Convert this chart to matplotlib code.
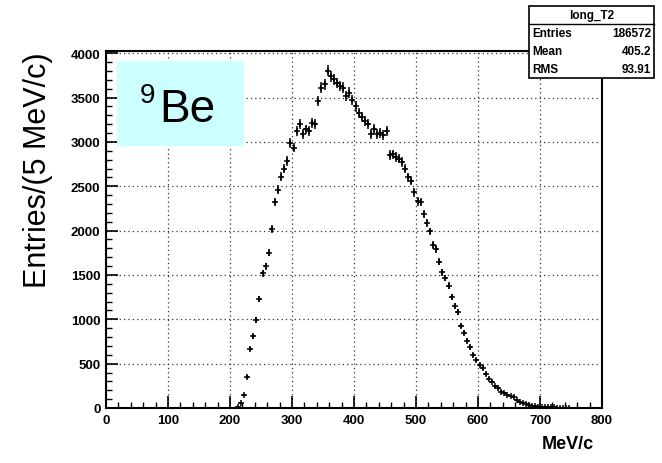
import numpy as np
import matplotlib
matplotlib.use("Agg")
import matplotlib.pyplot as plt
from matplotlib.patches import Rectangle
from matplotlib.ticker import MultipleLocator

plt.rcParams['font.family'] = ['Liberation Sans', 'DejaVu Sans']

# histogram "long_T2": 5 MeV/c bins
bin_centers = np.arange(212.5, 750.0, 5.0)
counts = [15, 55, 145, 350, 665, 810, 990, 1230, 1520, 1600,
          1750, 2020, 2320, 2460, 2610, 2700, 2785, 2990, 2935, 3125,
          3200, 3090, 3140, 3125, 3215, 3200, 3460, 3610, 3650, 3800,
          3740, 3705, 3665, 3630, 3610, 3520, 3555, 3470, 3400, 3330,
          3280, 3240, 3200, 3090, 3150, 3090, 3100, 3080, 3120, 2850,
          2860, 2830, 2810, 2775, 2700, 2600, 2560, 2430, 2330, 2320,
          2190, 2090, 1990, 1840, 1790, 1650, 1530, 1465, 1380, 1250,
          1150, 1080, 930, 850, 760, 685, 600, 545, 490, 450,
          385, 330, 295, 245, 222, 185, 170, 150, 140, 120,
          93, 72, 60, 45, 35, 27, 20, 16, 13, 11,
          9, 8, 7, 5, 4, 3, 2, 1]
counts = np.array(counts, dtype=float)

stats_title = "long_T2"
stats_rows = [("Entries", "186572"), ("Mean", "405.2"), ("RMS", "93.91")]
x_ticks = [0, 100, 200, 300, 400, 500, 600, 700, 800]
y_ticks = [0, 500, 1000, 1500, 2000, 2500, 3000, 3500, 4000]

W, H = 662, 464
fig = plt.figure(figsize=(W / 100, H / 100), dpi=100)
ax = fig.add_axes([106 / W, 1 - 409 / H, 496 / W, 357 / H])

ax.errorbar(bin_centers, counts, xerr=2.5, yerr=np.sqrt(counts),
            fmt='+', color='black', ms=4.5, mew=1.1, elinewidth=1.1,
            capsize=0, zorder=3)

ax.set_xlim(0, 800)
ax.set_ylim(0, 4025)
ax.set_xticks(x_ticks)
ax.set_yticks(y_ticks)
ax.xaxis.set_minor_locator(MultipleLocator(20))
ax.yaxis.set_minor_locator(MultipleLocator(100))
ax.tick_params(which='major', direction='in', length=8.5, width=1.2,
               labelsize=9.5, top=False, right=False)
ax.tick_params(which='minor', direction='in', length=4.3, width=1.0,
               top=False, right=False)
ax.tick_params(axis='x', pad=4)
ax.tick_params(axis='y', pad=4)
for lab in ax.get_xticklabels() + ax.get_yticklabels():
    lab.set_fontweight('bold')
ax.grid(True, which='major', color='#333333', linestyle=(0, (1, 2.5)),
        linewidth=0.9)
for sp in ax.spines.values():
    sp.set_linewidth(1.5)

# axis titles
fig.text(568 / W, 1 - 445 / H, "MeV/c", fontsize=13, fontweight='bold',
         ha='center', va='center')
fig.text(38 / W, 1 - 170 / H, "Entries/(5 MeV/c)", fontsize=22,
         rotation=90, ha='center', va='center')

# target label box
fig.patches.append(Rectangle((117 / W, 1 - 147 / H), 127 / W, 85 / H,
                             transform=fig.transFigure, facecolor='#ccffff',
                             edgecolor='none', zorder=5))
fig.text(159 / W, 1 - 122 / H, "Be", fontsize=33, ha='left',
         va='baseline', zorder=6)
fig.text(140 / W, 1 - 103 / H, "9", fontsize=20, ha='left',
         va='baseline', zorder=6)

# stats box
bx0, bx1, by0, by1 = 529, 654, 7, 79
fig.patches.append(Rectangle((bx0 / W, 1 - by1 / H), (bx1 - bx0) / W,
                             (by1 - by0) / H, transform=fig.transFigure,
                             facecolor='white', edgecolor='black',
                             linewidth=1.2, zorder=5))
fig.add_artist(plt.Line2D([bx0 / W, bx1 / W], [1 - 25 / H, 1 - 25 / H],
                          transform=fig.transFigure, color='black',
                          linewidth=1.0, zorder=6))
fig.text((bx0 + bx1) / 2 / W, 1 - 16 / H, stats_title, fontsize=8.5,
         fontweight='bold', ha='center', va='center', zorder=7)
for i, (name, val) in enumerate(stats_rows):
    yy = 1 - (34 + 18 * i) / H
    fig.text((bx0 + 3) / W, yy, name, fontsize=8.5, fontweight='bold',
             ha='left', va='center', zorder=7)
    fig.text((bx1 - 3) / W, yy, val, fontsize=8.5, fontweight='bold',
             ha='right', va='center', zorder=7)

fig.savefig("out.png", dpi=100)
